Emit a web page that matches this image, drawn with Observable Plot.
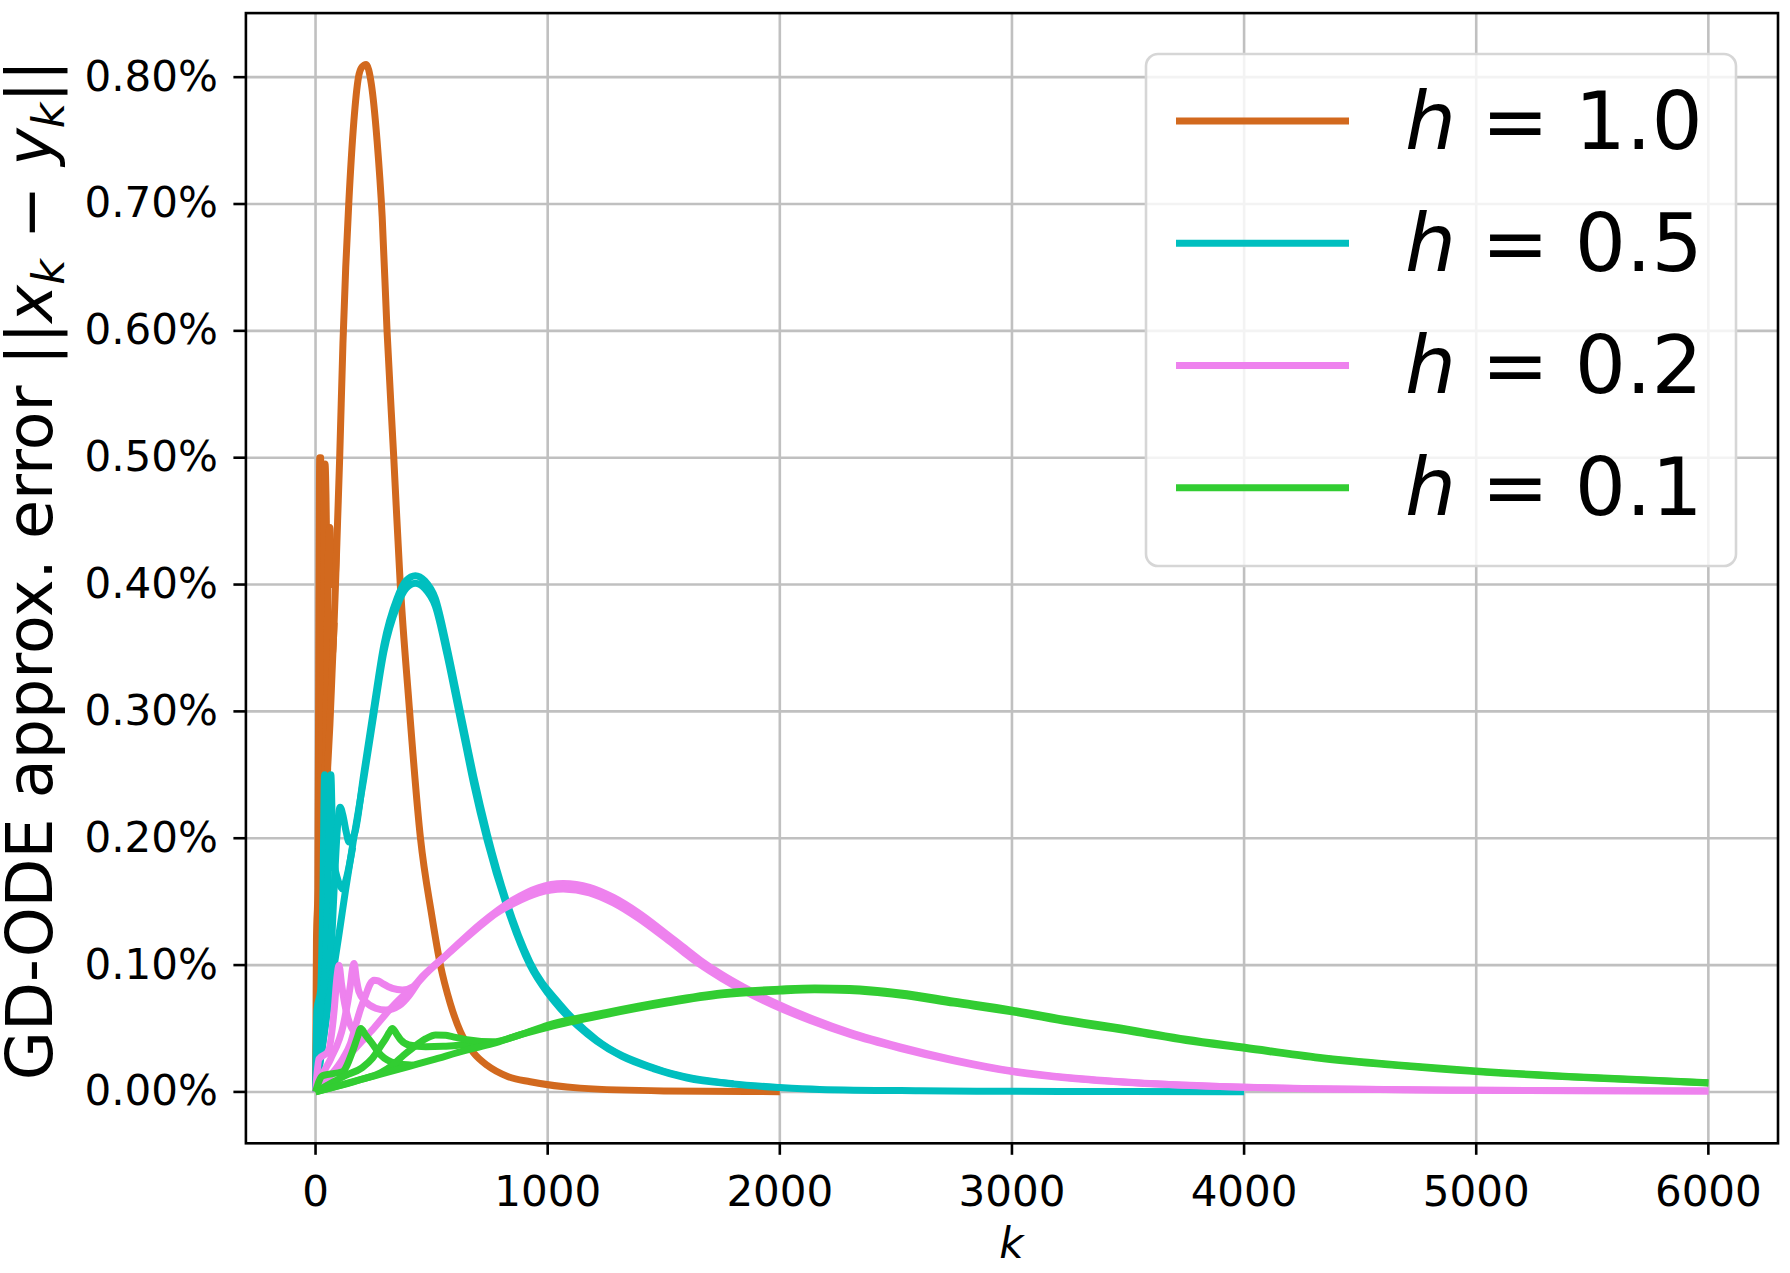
<!DOCTYPE html>
<html>
<head>
<meta charset="utf-8">
<script src="https://cdn.jsdelivr.net/npm/d3@7"></script>
<script src="https://cdn.jsdelivr.net/npm/@observablehq/plot@0.6"></script>
<style>
  html, body { margin: 0; padding: 0; background: #ffffff; }
  svg text { white-space: pre; }
</style>
</head>
<body>
<script>
// ---------------- data (k = iteration, v = error in %) ----------------
const xTicks = [0, 1000, 2000, 3000, 4000, 5000, 6000];
const yTicks = [0, 0.1, 0.2, 0.3, 0.4, 0.5, 0.6, 0.7, 0.8];
const hLabels = ["1.0", "0.5", "0.2", "0.1"];
const hColors = ["#d2691e", "#00bfbf", "#ee82ee", "#32cd32"];

// h = 1.0
const h10_t1 = [[0,0],[4,0.12],[10,0.16],[14,0.35],[18,0.50],[22,0.50],[26,0.42],[30,0.32],[36,0.25],[44,0.23],[52,0.255]];
const h10_t2 = [[0,0],[6,0.06],[15,0.14],[28,0.28],[36,0.42],[41,0.495],[45,0.47],[50,0.40],[56,0.36],[64,0.35],[72,0.345],[80,0.37]];
const h10_t3 = [[0,0],[20,0.09],[35,0.18],[45,0.28],[52,0.38],[58,0.44],[62,0.445],[67,0.42],[74,0.40],[82,0.40],[90,0.43]];
const h10_main = [[0,0],[10,0.05],[20,0.10],[30,0.15],[42,0.21],[52,0.255],[62,0.29],[71,0.33],[80,0.37],[86,0.40],[95,0.45],[104,0.50],[118,0.59],[130,0.65],[143,0.70],[165,0.765],[185,0.80],[200,0.808],[218,0.81],[240,0.795],[265,0.75],[287,0.69],[308,0.60],[337,0.50],[365,0.40],[401,0.31],[452,0.20],[500,0.14],[538,0.10],[580,0.07],[624,0.0475],[680,0.031],[739,0.021],[830,0.012],[925,0.008],[1140,0.003],[1500,0.0008],[2000,0.0002]];

// h = 0.5
const h05_t1 = [[0,0],[6,0.065],[22,0.08],[32,0.16],[39,0.25],[48,0.20],[56,0.145],[69,0.113],[84,0.105]];
const h05_t2 = [[0,0],[10,0.03],[26,0.065],[49,0.13],[60,0.21],[66,0.25],[73,0.205],[81,0.18],[95,0.168],[116,0.16],[135,0.17],[160,0.193]];
const h05_t3 = [[0,0],[40,0.05],[56,0.075],[66,0.105],[83,0.172],[95,0.21],[106,0.2245],[118,0.218],[132,0.205],[144,0.197],[170,0.205],[208,0.251],[253,0.305],[294,0.352],[351,0.389],[390,0.403],[430,0.407],[470,0.403],[516,0.389],[566,0.351],[609,0.313],[645,0.281],[681,0.249],[740,0.203],[821,0.151],[924,0.102],[1053,0.069],[1211,0.041],[1455,0.019],[1800,0.0064]];
const h05_main = [[0,0],[20,0.025],[40,0.05],[60,0.075],[78,0.097],[100,0.123],[130,0.16],[162,0.197],[208,0.247],[253,0.30],[294,0.3465],[351,0.383],[390,0.397],[430,0.401],[470,0.397],[516,0.383],[566,0.345],[609,0.307],[645,0.275],[681,0.243],[740,0.198],[821,0.148],[924,0.10],[1000,0.078],[1053,0.066],[1130,0.052],[1211,0.040],[1320,0.028],[1455,0.0184],[1600,0.011],[1799,0.0062],[2000,0.0035],[2172,0.002],[2600,0.0009],[3000,0.0005],[3500,0.0003],[4000,0.0002]];

// h = 0.2
const h02_t1 = [[0,0],[15,0.026],[55,0.032],[80,0.064],[92,0.09],[101,0.0999],[112,0.085],[125,0.07],[140,0.058],[172,0.046],[210,0.042]];
const h02_t2 = [[0,0],[25,0.012],[65,0.026],[120,0.053],[150,0.084],[160,0.098],[166,0.1013],[175,0.09],[187,0.079],[216,0.071],[259,0.066],[303,0.0645],[360,0.068],[403,0.076],[440,0.086]];
const h02_t3 = [[0,0],[60,0.012],[120,0.027],[150,0.038],[173,0.0527],[195,0.066],[216,0.0763],[235,0.085],[252,0.088],[270,0.0875],[288,0.0855],[331,0.0816],[374,0.0803],[420,0.083],[460,0.091],[566,0.1085],[710,0.1325],[852,0.1515],[960,0.161],[1067,0.1643],[1180,0.1613],[1283,0.1533],[1390,0.1413],[1498,0.1265],[1580,0.1148],[1656,0.104],[1750,0.0925],[1842,0.0828],[1971,0.071],[2129,0.0585],[2300,0.047],[2518,0.0355],[2750,0.0253],[3001,0.0165],[3250,0.0111],[3522,0.0074],[4003,0.0037],[4326,0.0025],[5000,0.0013],[6000,0.0008]];
const h02_main = [[0,0],[50,0.01],[100,0.02],[150,0.03],[200,0.04],[250,0.05],[325,0.066],[380,0.076],[408,0.08],[480,0.094],[566,0.108],[640,0.12],[710,0.131],[780,0.141],[852,0.1485],[960,0.157],[1067,0.160],[1180,0.157],[1283,0.149],[1390,0.137],[1498,0.1225],[1580,0.111],[1656,0.1005],[1750,0.0895],[1842,0.080],[1971,0.0685],[2129,0.0565],[2300,0.0455],[2518,0.0344],[2750,0.0245],[3001,0.016],[3250,0.0108],[3522,0.0072],[4003,0.0036],[4326,0.0024],[5000,0.0013],[6000,0.0008]];

// h = 0.1
const h01_t1 = [[0,0],[30,0.0128],[116,0.016],[159,0.0318],[180,0.043],[195,0.050],[215,0.045],[238,0.0396],[281,0.0291],[345,0.0226],[420,0.021]];
const h01_t2 = [[0,0],[130,0.0131],[200,0.019],[245,0.0265],[280,0.036],[302,0.042],[318,0.047],[331,0.050],[348,0.046],[367,0.041],[403,0.037],[475,0.0357],[550,0.036],[661,0.0375],[762,0.0385]];
const h01_t3 = [[0,0],[200,0.01],[280,0.015],[331,0.021],[380,0.029],[417,0.0344],[475,0.042],[517,0.0449],[560,0.0447],[589,0.0436],[661,0.041],[762,0.0395],[880,0.045],[1000,0.0525],[1250,0.0625],[1512,0.0715],[1750,0.078],[2000,0.081],[2150,0.082],[2300,0.0815],[2518,0.078],[2750,0.0715],[3001,0.0645],[3250,0.0565],[3522,0.0487],[3750,0.0415],[4003,0.0352],[4326,0.0272],[4650,0.0215],[5000,0.0165],[5500,0.0113],[6000,0.0073]];
const h01_main = [[0,0],[100,0.005],[200,0.01],[300,0.015],[400,0.02],[500,0.025],[650,0.033],[762,0.038],[880,0.045],[1000,0.051],[1250,0.061],[1512,0.070],[1750,0.0765],[2000,0.0795],[2150,0.0805],[2300,0.080],[2518,0.0764],[2750,0.070],[3001,0.0632],[3250,0.055],[3522,0.0475],[3750,0.0405],[4003,0.0344],[4326,0.0266],[4650,0.021],[5000,0.016],[5500,0.011],[6000,0.0071]];

const seriesByH = [
  [h10_t1, h10_t2, h10_t3, h10_main],
  [h05_t1, h05_t2, h05_t3, h05_main],
  [h02_t1, h02_t2, h02_t3, h02_main],
  [h01_t1, h01_t2, h01_t3, h01_main]
];

// ---------------- chart ----------------
const W = 1790, H = 1273;
const LW = 7;
const lineMarks = [];
seriesByH.forEach((group, i) => {
  group.forEach(pts => {
    lineMarks.push(Plot.line(pts, {
      x: d => d[0], y: d => d[1], stroke: hColors[i], strokeWidth: LW,
      curve: "monotone-x", strokeLinejoin: "round", strokeLinecap: "butt"
    }));
  });
});

const chart = Plot.plot({
  width: W, height: H,
  marginLeft: 245.4, marginRight: 12.5, marginTop: 12.6, marginBottom: 130.2,
  style: { fontFamily: "DejaVu Sans", fontSize: "42px", background: "#ffffff", color: "#000000" },
  x: { domain: [-300, 6300] },
  y: { domain: [-0.0405, 0.8505] },
  marks: [
    Plot.gridX(xTicks, { stroke: "#c0c0c0", strokeOpacity: 1, strokeWidth: 2.6 }),
    Plot.gridY(yTicks, { stroke: "#c0c0c0", strokeOpacity: 1, strokeWidth: 2.6 }),
    ...lineMarks,
    Plot.frame({ stroke: "#000000", strokeWidth: 2.6 }),
    Plot.axisX(xTicks, { tickSize: 12, tickPadding: 21, strokeWidth: 2.6, fontSize: 42, tickFormat: d => String(d), label: null }),
    Plot.axisY(yTicks, { tickSize: 12, tickPadding: 16, strokeWidth: 2.6, fontSize: 42, tickFormat: d => d.toFixed(2) + "%", label: null })
  ]
});
document.body.appendChild(chart);

const svg = d3.select(chart);

// y-axis label
const yl = svg.append("text")
  .attr("transform", "translate(52,570) rotate(-90)")
  .attr("text-anchor", "middle")
  .attr("font-family", "DejaVu Sans")
  .attr("font-size", 63.5)
  .attr("fill", "#000");
yl.append("tspan").text("GD-ODE approx. error ||");
yl.append("tspan").attr("font-style", "italic").text("x");
yl.append("tspan").attr("font-style", "italic").attr("font-size", 44).attr("dy", 12).text("k");
yl.append("tspan").attr("dy", -12).text(" \u2212 ");
yl.append("tspan").attr("font-style", "italic").text("y");
yl.append("tspan").attr("font-style", "italic").attr("font-size", 44).attr("dy", 12).text("k");
yl.append("tspan").attr("dy", -12).text("||");

// x-axis label
svg.append("text")
  .attr("x", 1011.5).attr("y", 1258)
  .attr("text-anchor", "middle")
  .attr("font-family", "DejaVu Sans")
  .attr("font-style", "italic")
  .attr("font-size", 42)
  .attr("fill", "#000")
  .text("k");

// legend
const lg = svg.append("g");
lg.append("rect")
  .attr("x", 1146).attr("y", 54).attr("width", 590).attr("height", 512)
  .attr("rx", 12).attr("ry", 12)
  .attr("fill", "#ffffff").attr("fill-opacity", 0.8)
  .attr("stroke", "#d6d6d6").attr("stroke-width", 2.6);
hLabels.forEach((lab, i) => {
  const yy = 120.9 + i * 122.3;
  lg.append("line")
    .attr("x1", 1176).attr("x2", 1349).attr("y1", yy).attr("y2", yy)
    .attr("stroke", hColors[i]).attr("stroke-width", LW);
  const t = lg.append("text")
    .attr("x", 1405).attr("y", yy + 27.6)
    .attr("text-anchor", "start")
    .attr("font-family", "DejaVu Sans")
    .attr("font-size", 80.5)
    .attr("fill", "#000");
  t.append("tspan").attr("font-style", "italic").text("h");
  t.append("tspan").text(" = " + lab);
});
</script>
</body>
</html>
